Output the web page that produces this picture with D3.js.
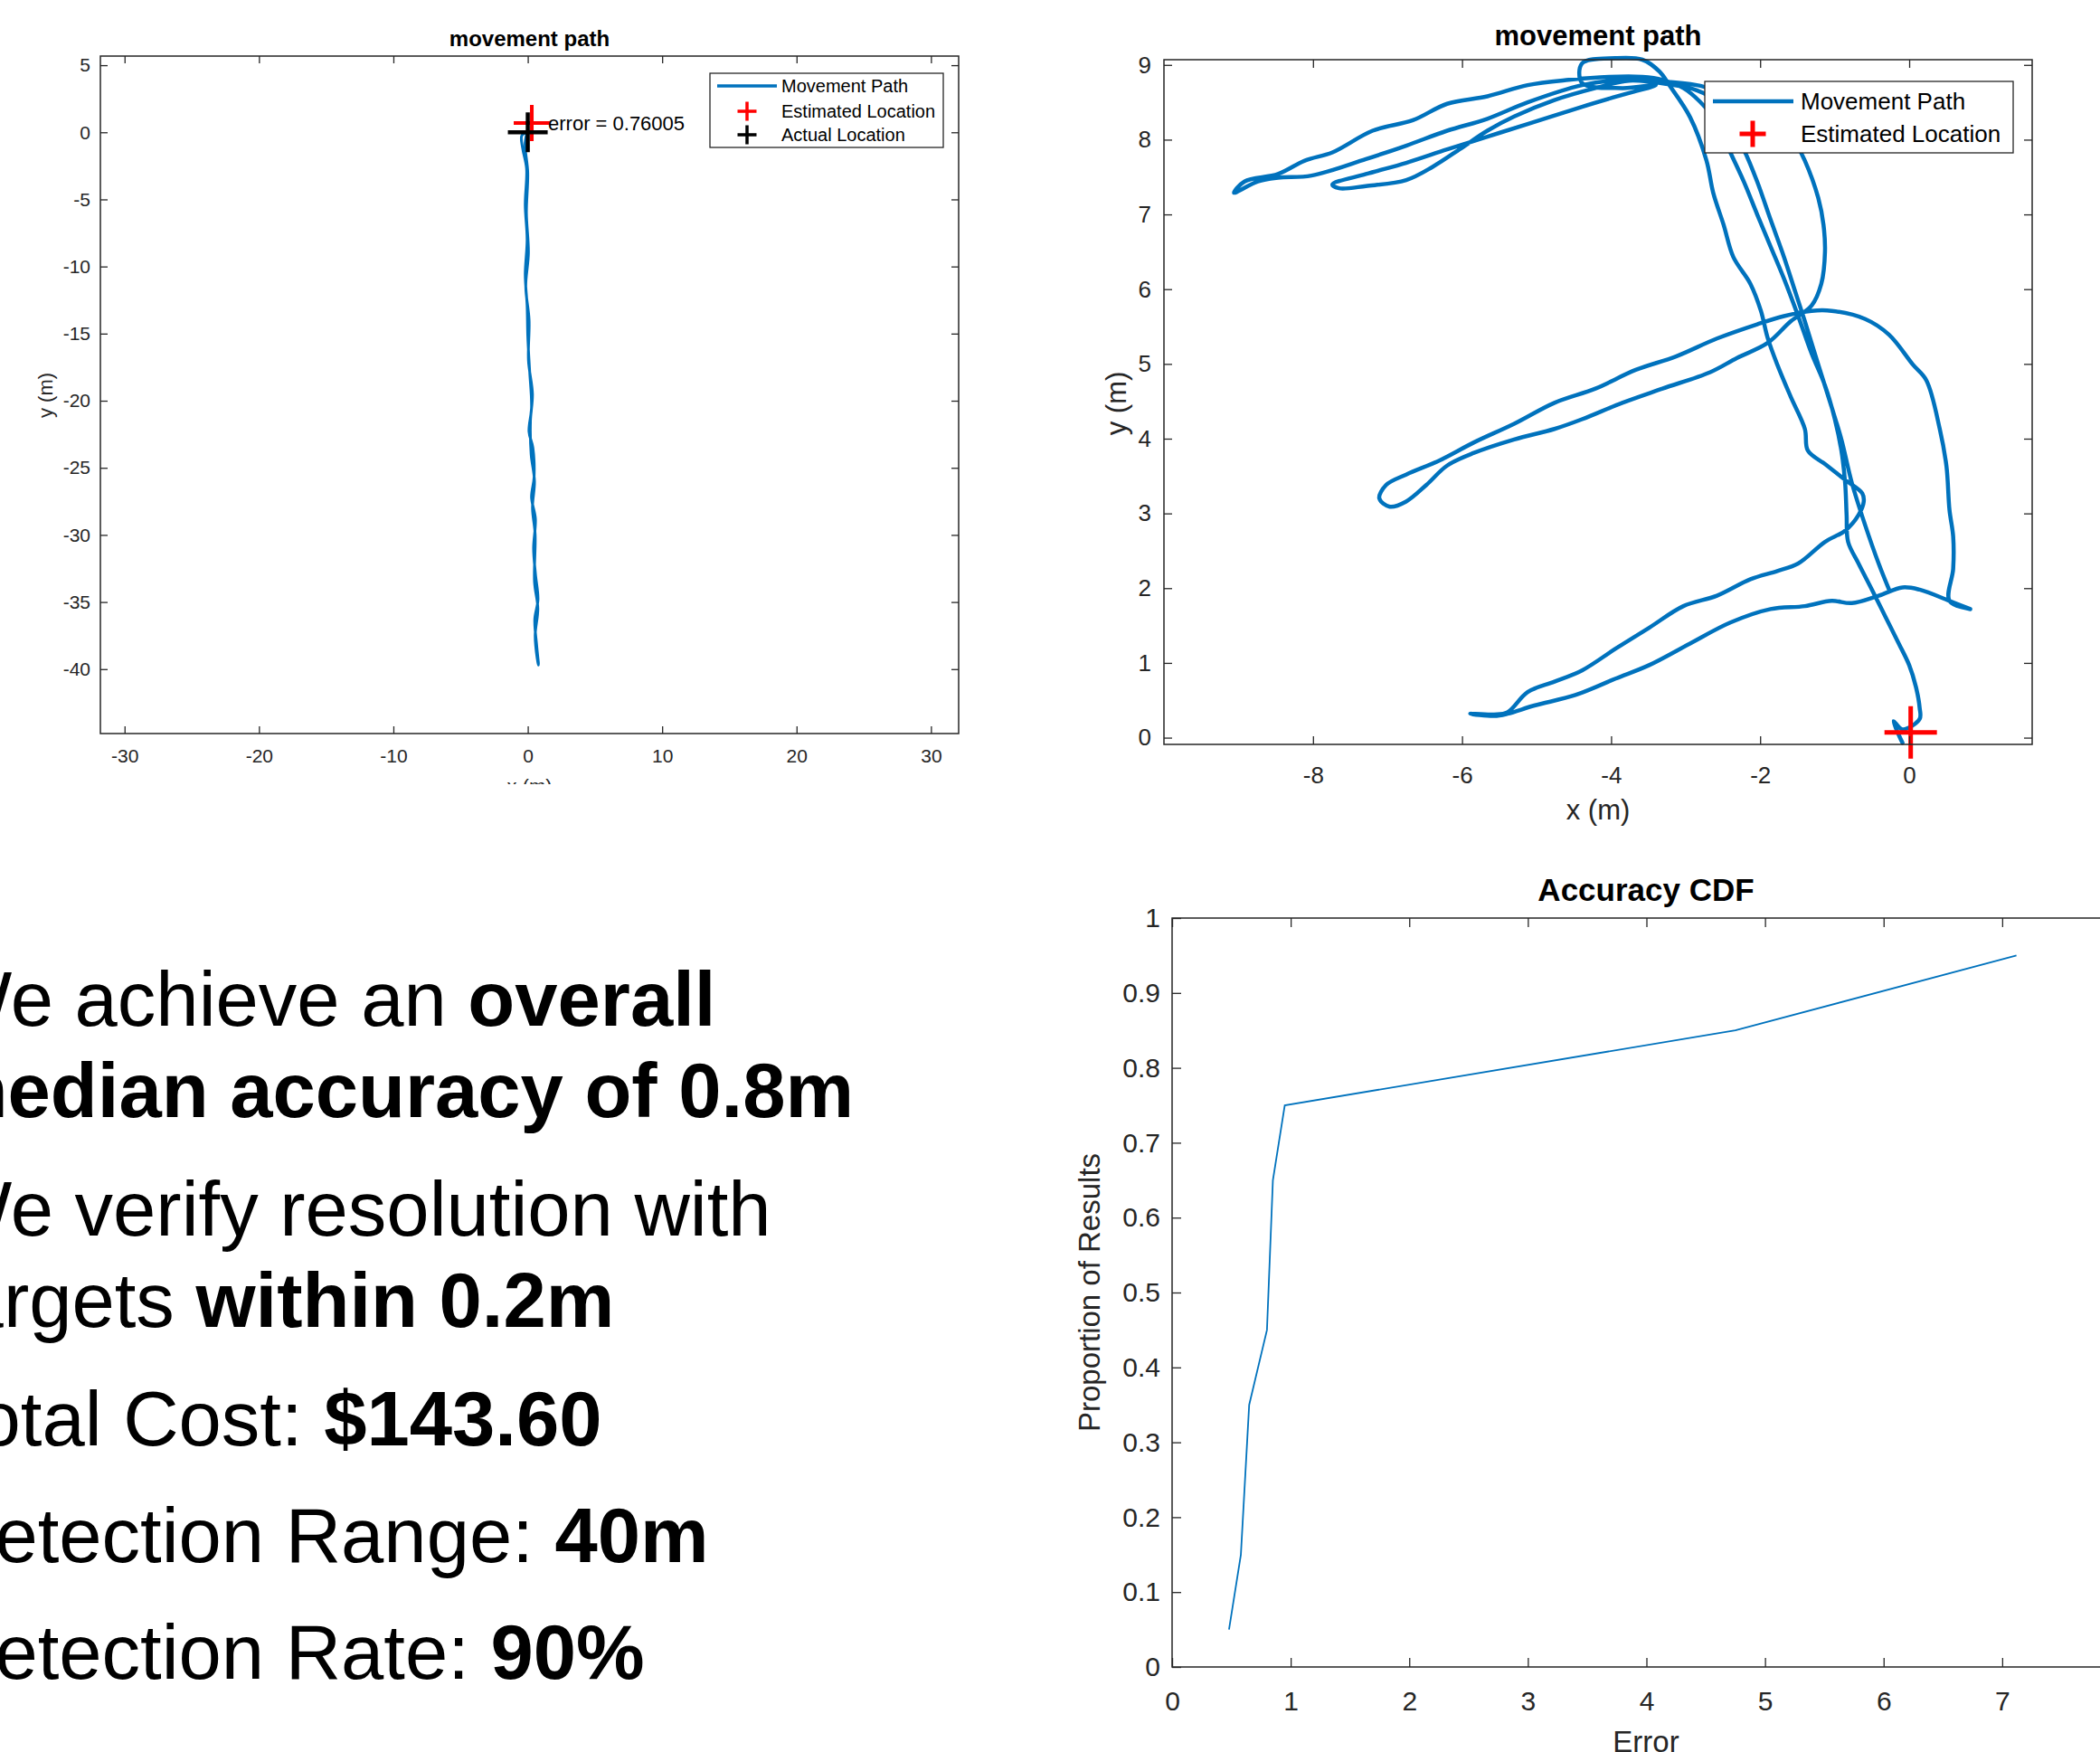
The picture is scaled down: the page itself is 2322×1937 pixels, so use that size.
<!DOCTYPE html>
<html>
<head>
<meta charset="utf-8">
<script src="https://cdn.jsdelivr.net/npm/d3@7"></script>
<style>
  html, body { margin: 0; padding: 0; background: #fff; }
  svg { display: block; font-family: "Liberation Sans", Arial, Helvetica, sans-serif; }
</style>
</head>
<body>
<svg id="chart" width="2322" height="1937"></svg>
<script>
// ---- data ----
// long corridor walk (left plot), metres
const corridorPath = [
  [0, 0.1], [-0.45, -0.26], [-0.38, -1.2], [-0.09, -2.7], [-0.19, -5.4], [-0.05, -8.0],
  [-0.19, -10.6], [-0.05, -12.9], [0, -15.2], [0.14, -17.8], [0.28, -20.5], [0.09, -22.3],
  [0.38, -23.5], [0.47, -25.7], [0.28, -27.2], [0.57, -28.8], [0.43, -31.0], [0.57, -32.9],
  [0.76, -34.8], [0.52, -36.3], [0.66, -38.2], [0.8, -39.7],
  [0.7, -39.2], [0.55, -37.5], [0.75, -35.5], [0.5, -33.5], [0.55, -30.0], [0.35, -28.0],
  [0.5, -26.0], [0.25, -24.0], [0.2, -21.5], [0.35, -19.5], [0.05, -17.0], [0.1, -14.0],
  [-0.15, -11.5], [0.05, -9.0], [-0.1, -6.0], [0, -3.0], [-0.2, -0.8], [0, 0.2]
];
const corridorEstimate = [0.3, 0.7];
const corridorActual = [0, 0];
const corridorError = 0.76005;

// room walk (right plot), metres
const roomPath = [
  [-0.09,-0.07],[-0.21,0.22],[-0.09,0.11],[0.14,0.25],[0.14,0.40],[0.09,0.68],[0,0.97],[-0.14,1.26],
  [-0.32,1.62],[-0.50,1.98],[-0.68,2.33],[-0.82,2.62],[-0.84,2.98],[-0.86,3.41],[-0.91,3.84],[-1.00,4.27],
  [-1.13,4.71],[-1.31,5.14],[-1.49,5.64],[-1.68,6.14],[-1.86,6.57],[-2.04,7.00],[-2.22,7.44],[-2.40,7.83],
  [-2.58,8.23],[-2.81,8.51],[-3.03,8.69],[-3.31,8.80],[-3.58,8.84],
  [-4.03,8.84],[-4.57,8.80],[-5.12,8.73],[-5.66,8.58],[-6.20,8.48],[-6.66,8.26],[-7.20,8.12],[-7.74,7.83],
  [-8.11,7.72],[-8.47,7.54],[-8.92,7.44],[-9.06,7.29],
  [-8.74,7.44],[-8.47,7.49],[-8.02,7.52],[-7.29,7.74],[-6.75,7.92],[-6.20,8.12],[-5.66,8.28],[-5.12,8.50],
  [-4.39,8.73],[-3.85,8.80],[-3.31,8.78],
  [-2.85,8.73],[-2.58,8.66],[-2.04,8.48],[-1.77,8.33],[-1.59,8.08],[-1.40,7.72],[-1.22,7.22],[-1.15,6.86],
  [-1.13,6.50],[-1.18,6.07],[-1.31,5.78],[-1.59,5.57],
  [-1.90,5.28],[-2.31,5.08],[-2.67,4.89],[-3.31,4.67],[-3.85,4.48],[-4.39,4.26],[-4.76,4.13],[-5.30,3.99],
  [-5.84,3.81],[-6.20,3.64],[-6.48,3.38],[-6.75,3.16],[-6.97,3.09],[-7.11,3.20],[-7.02,3.38],[-6.75,3.52],
  [-6.30,3.71],[-5.84,3.95],[-5.30,4.20],[-4.76,4.48],[-4.21,4.67],[-3.67,4.92],[-3.13,5.10],[-2.58,5.34],
  [-2.04,5.53],[-1.68,5.64],[-1.31,5.71],[-1.04,5.71],[-0.59,5.60],[-0.27,5.39],[0.05,4.99],[0.23,4.78],
  [0.41,4.13],[0.50,3.63],[0.54,3.05],[0.59,2.69],[0.59,2.26],[0.54,1.83],[0.82,1.72],[0.54,1.83],
  [0.14,1.98],[-0.09,2.01],[-0.41,1.90],[-0.77,1.80],[-1.04,1.83],[-1.40,1.76],[-1.86,1.72],[-2.40,1.54],
  [-2.94,1.26],[-3.49,0.97],[-3.94,0.79],[-4.48,0.57],[-5.03,0.43],[-5.39,0.32],[-5.57,0.29],[-5.89,0.32],
  [-5.57,0.31],[-5.39,0.34],[-5.12,0.61],[-4.76,0.75],[-4.39,0.90],[-3.94,1.19],[-3.49,1.47],[-3.03,1.76],
  [-2.58,1.90],[-2.13,2.12],[-1.77,2.23],[-1.49,2.33],[-1.13,2.62],[-0.86,2.77],[-0.68,2.98],[-0.61,3.16],
  [-0.63,3.27],[-0.86,3.45],[-1.13,3.66],[-1.36,3.84],
  [-1.40,4.13],[-1.59,4.56],[-1.77,4.99],[-1.90,5.35],[-1.99,5.71],[-2.13,6.07],[-2.36,6.43],[-2.49,6.86],
  [-2.63,7.29],[-2.72,7.72],[-2.94,8.30],[-3.22,8.73],
  [-3.35,8.91],[-3.58,9.07],[-3.94,9.09],[-4.39,9.02],[-4.39,8.76],[-3.85,8.69],[-3.40,8.73],
  [-3.85,8.60],[-4.39,8.44],[-5.12,8.21],[-5.66,8.04],[-6.20,7.87],[-6.75,7.69],[-7.29,7.54],[-7.74,7.40],
  [-7.65,7.35],
  [-7.29,7.38],[-6.75,7.46],[-6.39,7.64],[-6.02,7.88],[-5.66,8.12],[-5.30,8.31],[-4.76,8.53],[-4.21,8.69],
  [-3.76,8.79],[-3.22,8.74],[-2.85,8.66],[-2.58,8.51],[-2.40,8.19],[-2.22,7.87],
  [-2.04,7.44],[-1.86,6.93],[-1.68,6.43],[-1.54,6.00],[-1.40,5.57],[-1.22,4.99],[-1.04,4.42],[-0.91,3.99],
  [-0.77,3.41],[-0.59,2.84],[-0.41,2.33],[-0.27,1.98]
];
const roomEstimate = [0.02, 0.07];

// accuracy CDF
const cdfError = [0.48, 0.58, 0.65, 0.8, 0.85, 0.95, 4.75, 7.12];
const cdfProportion = [0.05, 0.15, 0.35, 0.45, 0.65, 0.75, 0.85, 0.95];

// tick labels
const corridorXTicks = [-30, -20, -10, 0, 10, 20, 30];
const corridorYTicks = [5, 0, -5, -10, -15, -20, -25, -30, -35, -40];
const roomXTicks = [-8, -6, -4, -2, 0];
const roomYTicks = [0, 1, 2, 3, 4, 5, 6, 7, 8, 9];
const cdfXTicks = [0, 1, 2, 3, 4, 5, 6, 7];
const cdfYTicks = [0, 0.1, 0.2, 0.3, 0.4, 0.5, 0.6, 0.7, 0.8, 0.9, 1];

// slide text: [text, bold]
const bulletLines = [
  [["We achieve an ", false], ["overall", true]],
  [["median accuracy of 0.8m", true]],
  [["We verify resolution with", false]],
  [["targets ", false], ["within 0.2m", true]],
  [["Total Cost: ", false], ["$143.60", true]],
  [["Detection Range: ", false], ["40m", true]],
  [["Detection Rate: ", false], ["90%", true]]
];

// ---- drawing ----
const W = 2322, H = 1937;
const BLUE = "#0072BD", AXIS = "#262626";
const svg = d3.select("#chart");
svg.append("rect").attr("width", W).attr("height", H).attr("fill", "#fff");

const plus = (cx, cy, r) => `M${cx - r},${cy}H${cx + r}M${cx},${cy - r}V${cy + r}`;

function drawFrame(g, x, y, o) {
  const [x0, x1] = x.range(), [yb, yt] = y.range();
  const style = (sel) => {
    sel.select(".domain").remove();
    sel.attr("font-family", null).attr("font-size", o.fs);
    sel.selectAll("line").attr("stroke", AXIS).attr("stroke-width", 1.3);
    sel.selectAll("text").attr("fill", AXIS);
  };
  g.append("g").attr("transform", `translate(0,${yb})`)
    .call(d3.axisBottom(x).tickValues(o.xt).tickSize(-o.tick).tickPadding(o.padX).tickFormat(String))
    .call(style);
  g.append("g").attr("transform", `translate(0,${yt})`)
    .call(d3.axisTop(x).tickValues(o.xt).tickSize(-o.tick).tickFormat(""))
    .call(style);
  g.append("g").attr("transform", `translate(${x0},0)`)
    .call(d3.axisLeft(y).tickValues(o.yt).tickSize(-o.tick).tickPadding(o.padY).tickFormat(String))
    .call(style);
  g.append("g").attr("transform", `translate(${x1},0)`)
    .call(d3.axisRight(y).tickValues(o.yt).tickSize(-o.tick).tickFormat(""))
    .call(style);
  g.append("rect")
    .attr("x", x0).attr("y", yt).attr("width", x1 - x0).attr("height", yb - yt)
    .attr("fill", "none").attr("stroke", AXIS).attr("stroke-width", 1.5);
}

function drawTitle(g, text, x, y, fs) {
  g.append("text").attr("x", x).attr("y", y).attr("text-anchor", "middle")
    .attr("font-size", fs).attr("font-weight", "bold").attr("fill", "#000").text(text);
}

function drawYLabel(g, text, x, y, fs) {
  g.append("text").attr("transform", `translate(${x},${y}) rotate(-90)`)
    .attr("text-anchor", "middle").attr("dy", "0.35em")
    .attr("font-size", fs).attr("fill", AXIS).text(text);
}

// --- left: corridor movement path ---
{
  const g = svg.append("g");
  const x = d3.scaleLinear().domain([-31.8, 32.06]).range([111, 1060]);
  const y = d3.scaleLinear().domain([-44.8, 5.68]).range([811, 62]);

  const line = d3.line().x((d) => x(d[0])).y((d) => y(d[1])).curve(d3.curveCatmullRom.alpha(0.5));
  g.append("path").datum(corridorPath).attr("d", line)
    .attr("fill", "none").attr("stroke", BLUE).attr("stroke-width", 3)
    .attr("stroke-linejoin", "round").attr("stroke-linecap", "round");

  g.append("path").attr("d", plus(x(corridorEstimate[0]), y(corridorEstimate[1]), 20))
    .attr("stroke", "#ff0000").attr("stroke-width", 4).attr("fill", "none");
  g.append("path").attr("d", plus(x(corridorActual[0]), y(corridorActual[1]), 22))
    .attr("stroke", "#000").attr("stroke-width", 4.5).attr("fill", "none");
  g.append("text").attr("x", x(corridorEstimate[0]) + 18).attr("y", y(corridorEstimate[1]))
    .attr("dy", "0.35em").attr("font-size", 22).attr("fill", "#000")
    .text("error = " + corridorError);

  drawFrame(g, x, y, { xt: corridorXTicks, yt: corridorYTicks, tick: 8, padX: 17, padY: 11, fs: 21 });
  drawTitle(g, "movement path", 585.5, 51, 24);
  drawYLabel(g, "y (m)", 50, 437, 22);

  svg.append("clipPath").attr("id", "cutLeft").append("rect")
    .attr("x", 0).attr("y", 0).attr("width", 1100).attr("height", 867);
  g.append("text").attr("clip-path", "url(#cutLeft)")
    .attr("x", 585.5).attr("y", 877).attr("text-anchor", "middle")
    .attr("font-size", 22).attr("fill", AXIS).text("x (m)");

  const lg = g.append("g");
  lg.append("rect").attr("x", 785).attr("y", 81).attr("width", 258).attr("height", 82)
    .attr("fill", "#fff").attr("stroke", AXIS).attr("stroke-width", 1.3);
  lg.append("line").attr("x1", 793).attr("x2", 859).attr("y1", 95).attr("y2", 95)
    .attr("stroke", BLUE).attr("stroke-width", 3.5);
  lg.append("path").attr("d", plus(826, 123, 10.5)).attr("stroke", "#ff0000").attr("stroke-width", 3.5);
  lg.append("path").attr("d", plus(826, 149, 10.5)).attr("stroke", "#000").attr("stroke-width", 3.5);
  ["Movement Path", "Estimated Location", "Actual Location"].forEach((t, i) => {
    lg.append("text").attr("x", 864).attr("y", [95, 123, 149][i]).attr("dy", "0.35em")
      .attr("font-size", 20).attr("fill", "#000").text(t);
  });
}

// --- right: room movement path ---
{
  const g = svg.append("g");
  const x = d3.scaleLinear().domain([-10, 1.65]).range([1287, 2247]);
  const y = d3.scaleLinear().domain([-0.09, 9.07]).range([823, 66]);

  const line = d3.line().x((d) => x(d[0])).y((d) => y(d[1])).curve(d3.curveCatmullRom.alpha(0.5));
  g.append("path").datum(roomPath).attr("d", line)
    .attr("fill", "none").attr("stroke", BLUE).attr("stroke-width", 4.5)
    .attr("stroke-linejoin", "round").attr("stroke-linecap", "round");

  g.append("path").attr("d", plus(x(roomEstimate[0]), y(roomEstimate[1]), 29))
    .attr("stroke", "#ff0000").attr("stroke-width", 5).attr("fill", "none");

  drawFrame(g, x, y, { xt: roomXTicks, yt: roomYTicks, tick: 9, padX: 25, padY: 14, fs: 26 });
  drawTitle(g, "movement path", 1767, 50, 31);
  drawYLabel(g, "y (m)", 1234, 446, 31);
  g.append("text").attr("x", 1767).attr("y", 906).attr("text-anchor", "middle")
    .attr("font-size", 31).attr("fill", AXIS).text("x (m)");

  const lg = g.append("g");
  lg.append("rect").attr("x", 1885).attr("y", 90).attr("width", 341).attr("height", 79)
    .attr("fill", "#fff").attr("stroke", AXIS).attr("stroke-width", 1.3);
  lg.append("line").attr("x1", 1894).attr("x2", 1983).attr("y1", 112).attr("y2", 112)
    .attr("stroke", BLUE).attr("stroke-width", 4.5);
  lg.append("path").attr("d", plus(1938, 148, 14.5)).attr("stroke", "#ff0000").attr("stroke-width", 5);
  ["Movement Path", "Estimated Location"].forEach((t, i) => {
    lg.append("text").attr("x", 1991).attr("y", [112, 148][i]).attr("dy", "0.35em")
      .attr("font-size", 26).attr("fill", "#000").text(t);
  });
}

// --- bottom right: accuracy CDF ---
{
  const g = svg.append("g");
  const x = d3.scaleLinear().domain([0, 8]).range([1296, 2345]);
  const y = d3.scaleLinear().domain([0, 1]).range([1843, 1015]);

  const pts = cdfError.map((e, i) => [e, cdfProportion[i]]);
  g.append("path").datum(pts)
    .attr("d", d3.line().x((d) => x(d[0])).y((d) => y(d[1])))
    .attr("fill", "none").attr("stroke", BLUE).attr("stroke-width", 1.8);

  drawFrame(g, x, y, { xt: cdfXTicks, yt: cdfYTicks, tick: 10, padX: 27, padY: 13, fs: 30 });
  drawTitle(g, "Accuracy CDF", 1820, 996, 35);
  drawYLabel(g, "Proportion of Results", 1204, 1429, 33);
  g.append("text").attr("x", 1820).attr("y", 1937).attr("text-anchor", "middle")
    .attr("font-size", 33).attr("fill", AXIS).text("Error");
}

// --- slide text (cut off at the left edge, as in the slide) ---
{
  const baselines = [1134, 1235, 1366, 1467, 1598, 1727, 1856];
  const t = svg.append("g").attr("font-size", 85).attr("fill", "#000");
  bulletLines.forEach((parts, i) => {
    const txt = t.append("text").attr("x", -67).attr("y", baselines[i]);
    parts.forEach(([s, bold]) => {
      txt.append("tspan").attr("font-weight", bold ? "bold" : "normal").text(s);
    });
  });
}
</script>
</body>
</html>
